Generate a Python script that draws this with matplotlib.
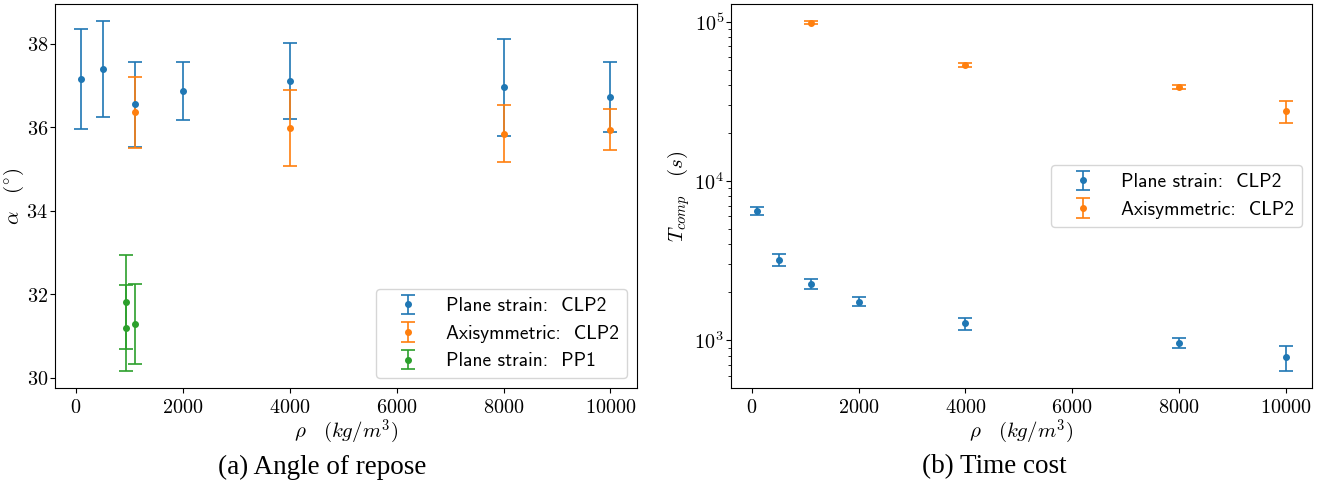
import numpy as np
import matplotlib
matplotlib.use("Agg")
import matplotlib.pyplot as plt
import matplotlib.ticker as mtick
from matplotlib.font_manager import FontProperties

plt.rcParams['mathtext.fontset'] = 'cm'

# angle of repose (deg)
rho_ps = [100, 500, 1100, 2000, 4000, 8000, 10000]
alpha_ps = [37.15, 37.39, 36.55, 36.86, 37.10, 36.95, 36.72]
alpha_ps_err = [1.19, 1.14, 1.02, 0.69, 0.91, 1.16, 0.83]

rho_ax = [1100, 4000, 8000, 10000]
alpha_ax = [36.35, 35.97, 35.84, 35.94]
alpha_ax_err = [0.84, 0.91, 0.68, 0.50]

rho_pp = [930, 930, 1100]
alpha_pp = [31.81, 31.20, 31.28]
alpha_pp_err = [1.12, 1.03, 0.96]

# computational time (s)
t_ps = [6470, 3210, 2250, 1750, 1274, 958, 785]
t_ps_err = [350, 275, 160, 120, 110, 70, 140]
t_ax = [98500, 53400, 39000, 27600]
t_ax_err = [2000, 1500, 1000, 4300]

labels = ["Plane strain:  CLP2", "Axisymmetric:  CLP2", "Plane strain:  PP1"]
colors = ["tab:blue", "tab:orange", "tab:green"]
fs = 14.5

# computer modern sans shipped with matplotlib
leg_font = FontProperties(fname=matplotlib.get_data_path() + "/fonts/ttf/cmss10.ttf", size=14)

fig = plt.figure(figsize=(13.22, 4.87), dpi=100)
ax1 = fig.add_axes([0.0416, 0.2033, 0.4402, 0.7885])
ax2 = fig.add_axes([0.5529, 0.2033, 0.4395, 0.7885])

kw = dict(fmt='o', markersize=4, capsize=5, elinewidth=1.2, capthick=1.2)

ax1.errorbar(rho_ps, alpha_ps, yerr=alpha_ps_err, color=colors[0], label=labels[0], **kw)
ax1.errorbar(rho_ax, alpha_ax, yerr=alpha_ax_err, color=colors[1], label=labels[1], **kw)
ax1.errorbar(rho_pp, alpha_pp, yerr=alpha_pp_err, color=colors[2], label=labels[2], **kw)
ax1.set_xlabel(r"$\rho \quad (kg/m^3)$", fontsize=15, labelpad=1)
ax1.set_ylabel(r"$\alpha \quad (^{\circ})$", fontsize=15, labelpad=0)
ax1.legend(loc="lower right", prop=leg_font, handlelength=2.4)

ax2.errorbar(rho_ps, t_ps, yerr=t_ps_err, color=colors[0], label=labels[0], **kw)
ax2.errorbar(rho_ax, t_ax, yerr=t_ax_err, color=colors[1], label=labels[1], **kw)
ax2.set_yscale("log")
ax2.set_xlabel(r"$\rho \quad (kg/m^3)$", fontsize=15, labelpad=1)
ax2.set_ylabel(r"$T_{comp} \quad (s)$", fontsize=15, labelpad=2)
ax2.legend(loc="center right", prop=leg_font, handlelength=2.4)

lin_fmt = mtick.FuncFormatter(lambda v, p: "$%d$" % round(v))
for ax in (ax1, ax2):
    ax.xaxis.set_major_formatter(lin_fmt)
    ax.tick_params(labelsize=fs)
    ax.tick_params(axis="y", which="major", pad=1.5)
ax1.yaxis.set_major_formatter(lin_fmt)
ax2.yaxis.set_major_formatter(mtick.FuncFormatter(
    lambda v, p: "$10^{%d}$" % round(np.log10(v))))
ax2.yaxis.set_minor_formatter(mtick.NullFormatter())

fig.text(0.2435, 0.041, "(a) Angle of repose", ha="center", va="center",
         fontsize=19.5, family="Liberation Serif")
fig.text(0.752, 0.041, "(b) Time cost", ha="center", va="center",
         fontsize=19.5, family="Liberation Serif")

fig.savefig("out.png", dpi=100)
